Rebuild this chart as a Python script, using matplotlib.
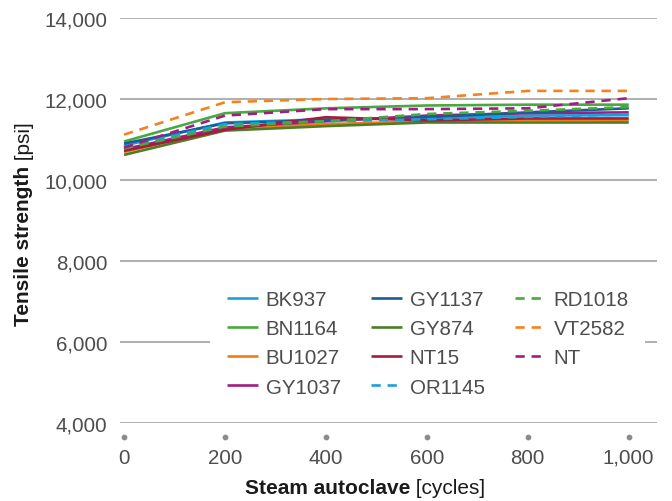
import numpy as np
import matplotlib
matplotlib.use('Agg')
import matplotlib.pyplot as plt
import matplotlib.transforms as mtransforms

# ─── Data ─────────────────────────────────────────
cycles = [0, 200, 400, 600, 800, 1000]

names = ["BK937", "BN1164", "BU1027", "GY1037", "GY1137", "GY874",
         "NT15", "OR1145", "RD1018", "VT2582", "NT"]

bk937  = [10850, 11420, 11500, 11520, 11590, 11600]
bn1164 = [10950, 11650, 11770, 11840, 11860, 11860]
bu1027 = [10690, 11280, 11380, 11450, 11490, 11470]
gy1037 = [10760, 11300, 11450, 11590, 11650, 11670]
gy1137 = [10900, 11400, 11480, 11550, 11670, 11770]
gy874  = [10620, 11220, 11330, 11420, 11420, 11420]
nt15   = [10720, 11240, 11550, 11470, 11520, 11520]
or1145 = [10820, 11380, 11450, 11500, 11560, 11620]
rd1018 = [10780, 11320, 11450, 11630, 11710, 11800]
vt2582 = [11120, 11920, 12000, 12020, 12200, 12200]
nt     = [10800, 11590, 11750, 11750, 11770, 12020]

series = [bk937, bn1164, bu1027, gy1037, gy1137, gy874,
          nt15, or1145, rd1018, vt2582, nt]

colors = ['#1a9fdc', '#4aa840', '#f07c14', '#a01e82', '#1b5c94', '#4d7d26',
          '#a51c3c', '#1aa0dc', '#4aa840', '#f58220', '#a01e82']
styles = ['-'] * 7 + ['--'] * 4

yticks = [4000, 6000, 8000, 10000, 12000, 14000]
# ──────────────────────────────────────────────────

FONT = 'Liberation Sans'
TICK_C = '#4d4d4d'
LABEL_C = '#1a1a1a'
GRID_C = '#9a9a9a'
FS = 14.8

fig = plt.figure(figsize=(6.72, 5.02), dpi=100, facecolor='white')
W, H = 672, 502
ax = fig.add_axes([120 / W, (502 - 424) / H, (657 - 120) / W, (424 - 19) / H])

for vals, c, ls, name in zip(series, colors, styles, names):
    ax.plot(cycles, vals, color=c, linestyle=ls, linewidth=1.9,
            dashes=(3.5, 2.6) if ls == '--' else (None, None), label=name,
            solid_capstyle='butt', dash_capstyle='butt', zorder=3)

ax.set_xlim(-8, 1056)
ax.set_ylim(4000, 14000)
ax.set_yticks(yticks)
ax.set_yticklabels([f"{v:,}" for v in yticks])
ax.set_xticks(cycles)
ax.set_xticklabels([f"{v:,}" for v in cycles])

for s in ax.spines.values():
    s.set_visible(False)
ax.yaxis.grid(True, color=GRID_C, linewidth=1.1)
ax.set_axisbelow(True)
ax.tick_params(axis='both', length=0, labelsize=FS, labelcolor=TICK_C)
ax.tick_params(axis='y', pad=9)
ax.tick_params(axis='x', pad=18)
for lab in ax.get_xticklabels() + ax.get_yticklabels():
    lab.set_fontfamily(FONT)

# dot tick marks under the x axis
trans = mtransforms.blended_transform_factory(ax.transData, ax.transAxes)
ax.scatter(cycles, [-0.035] * len(cycles), s=10, color='#8c8c8c',
           transform=trans, clip_on=False, zorder=4)

leg = ax.legend(ncol=3, loc='upper left', bbox_to_anchor=(0.149, 0.395),
                frameon=True, facecolor='white', edgecolor='none', framealpha=1,
                prop={'family': FONT, 'size': FS}, labelcolor=TICK_C,
                handlelength=1.5, handletextpad=0.4, columnspacing=1.45,
                labelspacing=0.5, borderpad=0.8)
leg.set_zorder(5)

# mixed-weight axis labels
renderer = fig.canvas.get_renderer()

def two_part(x, y, bold, rest, rot):
    t1 = fig.text(0, 0, bold, fontsize=15, fontweight='bold', family=FONT,
                  color=LABEL_C, rotation=rot, transform=None)
    t2 = fig.text(0, 0, " " + rest, fontsize=15, family=FONT,
                  color=LABEL_C, rotation=rot, transform=None)
    b1 = t1.get_window_extent(renderer)
    b2 = t2.get_window_extent(renderer)
    if rot == 0:
        total = b1.width + b2.width
        x0 = x - total / 2
        t1.set_position((x0, H - y)); t1.set_ha('left'); t1.set_va('center')
        t2.set_position((x0 + b1.width, H - y)); t2.set_ha('left'); t2.set_va('center')
    else:
        total = b1.height + b2.height
        y0 = (H - y) - total / 2
        t1.set_position((x, y0)); t1.set_ha('center'); t1.set_va('bottom')
        t2.set_position((x, y0 + b1.height)); t2.set_ha('center'); t2.set_va('bottom')

two_part(365, 489, "Steam autoclave", "[cycles]", 0)
two_part(24, 224, "Tensile strength", "[psi]", 90)

plt.savefig("out.png", dpi=100, facecolor='white')
